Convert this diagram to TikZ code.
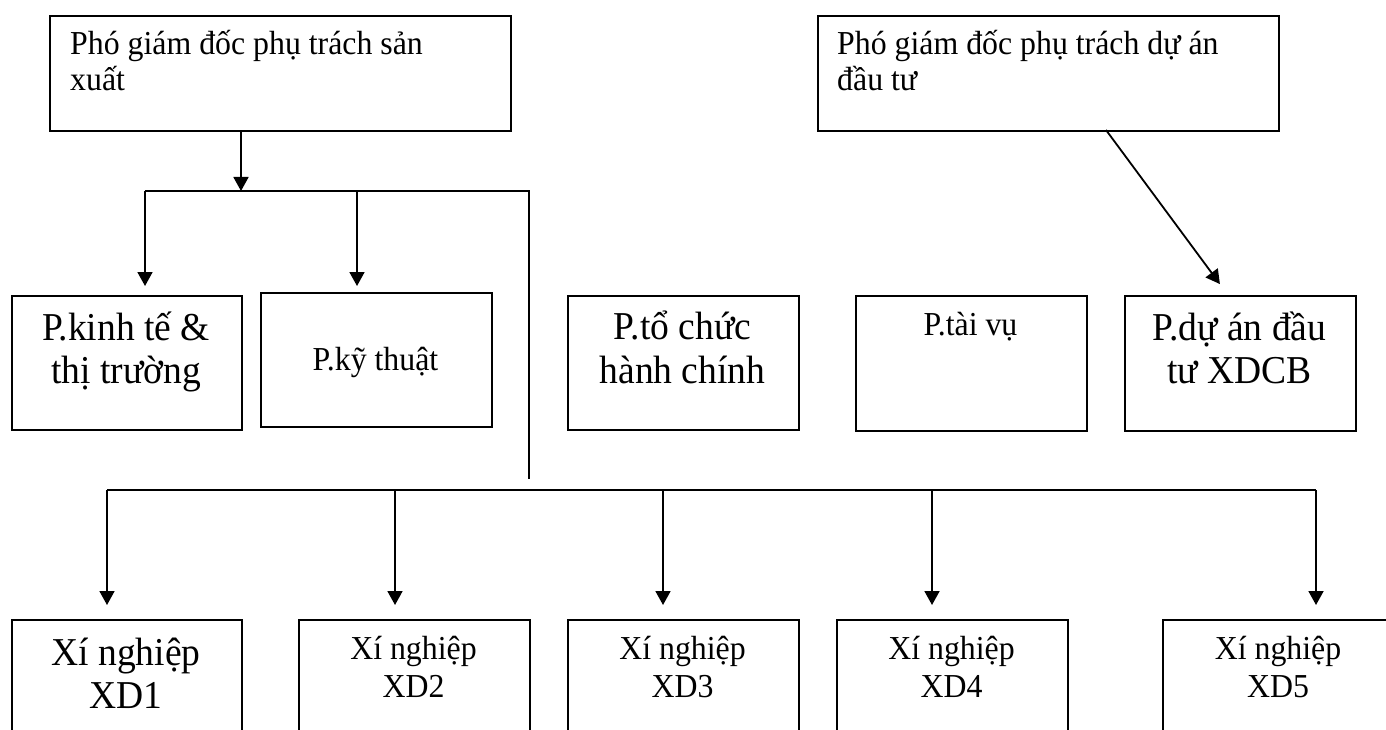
\documentclass[tikz,border=0pt]{standalone}
\usepackage{fontspec}
\setmainfont{Liberation Serif}[FakeStretch=0.95]
\usetikzlibrary{arrows.meta}
\begin{document}
\begin{tikzpicture}[x=1pt,y=-1pt,
  box/.style={draw, line width=1.8pt, anchor=north west, inner sep=0pt},
  link/.style={draw, line width=1.8pt},
  arr/.style={link, -{Triangle[length=14pt,width=15pt]}},
  small/.style={font=\fontsize{33.5}{38}\selectfont, inner sep=0pt},
  large/.style={font=\fontsize{39.5}{45}\selectfont, inner sep=0pt}]
\useasboundingbox (0,0) rectangle (1386,730);
\clip (0,0) rectangle (1386,730);

% deputy directors
\node[box, minimum width=461pt, minimum height=115pt] (vl) at (49,15) {};
\node[box, minimum width=461pt, minimum height=115pt] (vr) at (817,15) {};
\node[small, anchor=base west] (vl1) at (70,55) {Phó giám đốc phụ trách sản};
\node[small, anchor=base west] (vl2) at (70,91) {xuất};
\node[small, anchor=base west] (vr1) at (837,55) {Phó giám đốc phụ trách dự án};
\node[small, anchor=base west] (vr2) at (837,91) {đầu tư};

% departments
\node[box, minimum width=230pt, minimum height=134pt] (kt) at (11,295) {};
\node[box, minimum width=231pt, minimum height=134pt] (kth) at (260,292) {};
\node[box, minimum width=231pt, minimum height=134pt] (tc) at (567,295) {};
\node[box, minimum width=231pt, minimum height=135pt] (tv) at (855,295) {};
\node[box, minimum width=231pt, minimum height=135pt] (da) at (1124,295) {};
\node[large, anchor=base] (kt1) at (126,340) {P.kinh tế \&};
\node[large, anchor=base] (kt2) at (126,383) {thị trường};
\node[small, anchor=base] (kth1) at (375.5,370) {P.kỹ thuật};
\node[large, anchor=base] (tc1) at (682.5,339) {P.tổ chức};
\node[large, anchor=base] (tc2) at (682.5,383) {hành chính};
\node[small, anchor=base] (tv1) at (970.5,335) {P.tài vụ};
\node[large, anchor=base] (da1) at (1239.5,340) {P.dự án đầu};
\node[large, anchor=base] (da2) at (1239.5,383) {tư XDCB};

% construction enterprises
\node[box, minimum width=230pt, minimum height=150pt] (x1) at (11,619) {};
\node[box, minimum width=231pt, minimum height=150pt] (x2) at (298,619) {};
\node[box, minimum width=231pt, minimum height=150pt] (x3) at (567,619) {};
\node[box, minimum width=231pt, minimum height=150pt] (x4) at (836,619) {};
\node[box, minimum width=232pt, minimum height=150pt] (x5) at (1162,619) {};
\node[large, anchor=base] (x1a) at (126,665) {Xí nghiệp};
\node[large, anchor=base] (x1b) at (126,708) {XD1};
\node[small, anchor=base] (x2a) at (413.5,659) {Xí nghiệp};
\node[small, anchor=base] (x2b) at (413.5,697) {XD2};
\node[small, anchor=base] (x3a) at (682.5,659) {Xí nghiệp};
\node[small, anchor=base] (x3b) at (682.5,697) {XD3};
\node[small, anchor=base] (x4a) at (951.5,659) {Xí nghiệp};
\node[small, anchor=base] (x4b) at (951.5,697) {XD4};
\node[small, anchor=base] (x5a) at (1278,659) {Xí nghiệp};
\node[small, anchor=base] (x5b) at (1278,697) {XD5};

% upper branch
\coordinate (b0) at (241,191);
\coordinate (bL) at (145,191);
\coordinate (bM) at (357,191);
\coordinate (bR) at (529,191);
\coordinate (bE) at (529,479);
\draw[arr] (vl.south -| b0) -- (b0);
\draw[link] (bL) -- (bR) -- (bE);
\draw[arr, shorten >=9pt] (bL) -- (bL |- kt.north);
\draw[arr, shorten >=6pt] (bM) -- (bM |- kth.north);

% diagonal link
\coordinate (dS) at (1106,130);
\coordinate (dE) at (1228,295);
\draw[arr, shorten >=13.6pt] (dS) -- (dE);

% lower branch
\coordinate (h1) at (107,490);
\coordinate (h2) at (395,490);
\coordinate (h3) at (663,490);
\coordinate (h4) at (932,490);
\coordinate (h5) at (1316,490);
\draw[link] (h1) -- (h5);
\foreach \h/\b in {h1/x1,h2/x2,h3/x3,h4/x4,h5/x5}
  \draw[arr, shorten >=14pt] (\h) -- (\h |- \b.north);
\end{tikzpicture}
\end{document}
